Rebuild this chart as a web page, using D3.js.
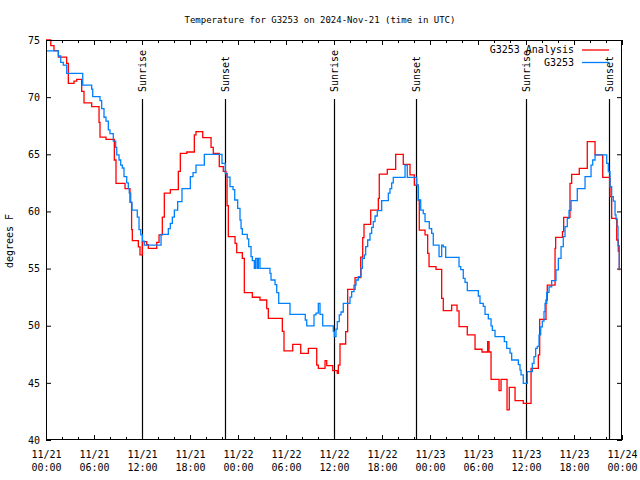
<!DOCTYPE html>
<html><head><meta charset="utf-8">
<script src="https://cdn.jsdelivr.net/npm/d3@7"></script>
<style>body{margin:0;background:#fff}text{font-family:"DejaVu Sans Mono",monospace;fill:#000}</style>
</head><body><svg id="c" width="640" height="480"></svg>
<script>
const title = "Temperature for G3253 on 2024-Nov-21 (time in UTC)";
const yLabel = "degrees F";
const startUTC = Date.UTC(2024, 10, 21, 0, 0);
const seriesNames = ["G3253 Analysis", "G3253"];
const seriesColors = ["#ff0000", "#0080ff"];
const yTicks = [40, 45, 50, 55, 60, 65, 70, 75];

// G3253 Analysis (hours since 11/21 00:00 UTC, deg F)
const redHours = [0,0.6,1.0,1.55,2.58,2.79,3.5,3.84,4.46,4.75,5.71,6.63,6.75,7.5,8.54,8.75,9.88,10.5,10.7,10.79,11.54,11.75,12.04,12.59,12.79,13.84,14.13,14.54,14.79,15.54,16.54,16.79,17.6,18.54,18.75,19.59,20.63,20.91,21.66,22.16,22.5,22.63,22.79,23.63,23.84,24.54,24.79,25.79,26.75,27.59,27.79,29.54,29.75,30.84,31.84,32.79,33.84,34.04,34.88,35.09,35.84,36.41,36.54,36.75,37.46,37.71,38.63,39.34,39.59,39.75,40.59,41.54,41.66,42.66,43.71,44.66,45.5,46.04,46.54,46.66,47.38,47.71,47.88,48.75,49.46,49.66,50.71,51.38,51.63,52.66,53.63,54.5,55.21,55.38,55.63,56.63,56.88,57.63,57.91,58.63,59.66,60.63,61.54,61.71,62.5,62.66,63.63,63.71,64.56,64.71,65.5,65.71,66.66,67.66,68.63,69.59,70.5,70.71,71.34,71.54,71.66,71.75];
const redTemps = [75.0,74.5,74.07,73.5,72.96,71.2,71.4,71.56,70.5,69.5,69.17,67.8,66.5,66.3,64.5,62.46,62.0,60.8,58.4,57.44,56.9,56.19,57.35,57.1,56.77,57.3,57.94,59.5,61.6,61.9,63.5,65.08,65.2,66.7,66.98,66.45,65.6,65.08,63.92,63.5,63.19,60.5,57.8,57.2,56.4,55.9,52.89,52.49,52.25,51.5,50.64,49.5,47.79,48.37,47.58,48.02,46.56,46.27,46.94,46.5,46.07,45.83,46.56,48.4,49.48,53.18,54.2,56.0,57.7,58.87,60.12,61.14,63.27,63.68,64.99,64.12,63.2,62.31,61.0,58.37,57.94,56.33,55.17,54.93,52.4,51.32,51.81,51.3,49.92,49.19,47.94,47.7,48.6,47.7,45.31,44.32,45.31,42.63,44.61,43.44,43.21,46.27,47.44,50.56,52.25,53.56,56.77,57.73,58.23,59.48,62.46,63.25,63.77,66.1,64.94,62.98,61.29,59.4,57.5,56.5,54.9,54.9];

// G3253 observed
const blueHours = [0,1.54,1.84,2.16,2.59,4.59,5.71,5.84,6.75,6.96,7.25,7.5,7.79,8.0,8.41,8.71,8.84,9.13,9.34,9.54,9.75,10.09,10.29,10.41,10.59,10.75,11.41,11.63,11.84,12.04,12.29,14.38,15.29,15.54,15.79,16.04,16.46,17.0,18.04,18.38,18.75,19.79,22.0,22.41,22.66,23.0,23.38,23.59,23.96,24.25,24.38,24.54,25.16,25.34,25.63,25.79,26.04,26.2,26.4,26.55,26.75,28.0,28.13,28.63,28.84,29.09,30.5,32.41,32.59,33.5,33.75,34.04,34.25,34.59,35.91,36.04,36.25,36.41,36.66,36.88,37.16,38.0,38.21,38.5,38.75,39.04,39.38,39.54,39.79,39.96,40.21,40.5,40.71,40.91,41.13,41.41,41.96,42.79,43.0,43.21,43.41,44.88,45.16,46.34,46.54,46.84,47.16,47.38,47.91,48.21,48.41,49.13,49.46,49.66,49.96,51.63,51.84,52.16,52.38,52.66,54.04,54.25,54.66,54.88,55.29,55.63,55.79,56.13,57.29,57.59,58.0,58.21,59.04,59.25,59.38,59.66,60.16,60.79,61.0,61.21,61.41,61.63,61.84,62.04,62.25,62.38,62.59,62.88,63.21,63.75,64.04,64.38,64.66,64.88,65.16,65.38,65.63,66.41,67.38,68.13,68.34,68.63,70.09,70.29,70.5,70.71,70.91,71.13,71.25,71.41,71.5,71.66,71.75];
const blueTemps = [74.04,73.6,73.05,72.8,72.08,71.06,70.7,70.04,69.7,69.0,68.24,67.9,67.13,66.8,66.16,65.6,64.94,64.5,64.06,63.8,63.04,62.5,62.0,61.6,60.8,60.12,59.5,58.4,57.94,57.4,57.06,58.0,58.5,58.96,59.5,60.12,60.85,62.0,63.04,63.4,64.06,65.0,64.21,63.33,63.0,62.17,61.9,61.0,60.27,59.25,58.5,58.0,57.6,56.92,56.04,55.7,55.02,55.9,55.02,55.9,55.02,54.58,54.0,53.6,52.89,51.96,51.0,50.5,49.98,50.94,51.1,51.96,51.0,49.98,49.5,49.04,49.7,50.35,50.94,51.2,51.96,52.5,52.98,53.56,54.0,54.3,55.02,55.9,56.2,56.92,57.5,58.08,58.6,59.1,59.6,60.07,60.94,61.6,62.0,62.5,62.98,64.06,62.98,62.31,61.0,60.12,59.8,59.1,58.5,58.08,57.06,56.04,57.06,56.9,55.98,55.17,54.9,54.15,53.8,53.07,52.6,51.96,51.7,51.0,50.6,49.98,49.6,49.04,48.6,48.02,47.6,47.0,46.6,46.12,45.7,44.96,45.98,46.7,47.29,48.02,48.2,49.19,49.9,50.4,51.23,51.96,52.92,53.4,53.94,54.88,55.9,56.92,57.79,58.67,59.4,60.1,60.94,62.0,63.04,64.06,64.5,64.94,64.2,63.48,62.17,61.29,60.9,59.69,59.3,58.7,57.0,55.02,55.02];

const sunLabels = ["Sunrise","Sunset","Sunrise","Sunset","Sunrise","Sunset"];
const sunHours = [12.0, 22.42, 35.96, 46.29, 59.96, 70.33];

const toDate = h => new Date(startUTC + h * 3600000);
const svg = d3.select("#c");
const L = 46, R = 622, T = 40, B = 440;
const x = d3.scaleUtc().domain([toDate(0), toDate(72)]).range([L, R]);
const y = d3.scaleLinear().domain([40, 75]).range([B, T]);

// title
svg.append("text").attr("x", 320).attr("y", 23).attr("text-anchor", "middle")
  .style("font-size", "9px").text(title);
// y label
svg.append("text").attr("transform", "translate(13,241) rotate(-90)")
  .attr("text-anchor", "middle").style("font-size", "10px").text(yLabel);

const fmtD = d3.utcFormat("%m/%d"), fmtT = d3.utcFormat("%H:%M");
function styleAxis(g){ g.select(".domain").remove(); g.selectAll("line").attr("stroke","#000"); }

// minor x ticks
svg.append("g").attr("transform", `translate(0,${B})`)
  .call(d3.axisBottom(x).ticks(d3.utcHour.every(2)).tickSize(-3).tickFormat("")).call(styleAxis);
svg.append("g").attr("transform", `translate(0,${T})`)
  .call(d3.axisTop(x).ticks(d3.utcHour.every(2)).tickSize(-3).tickFormat("")).call(styleAxis);
// major x ticks
const xb = svg.append("g").attr("transform", `translate(0,${B})`)
  .call(d3.axisBottom(x).ticks(d3.utcHour.every(6)).tickSize(-5).tickFormat("")).call(styleAxis);
xb.selectAll(".tick").each(function(d){
  const t = d3.select(this).append("text").attr("text-anchor","middle").style("font-size","10px");
  t.append("tspan").attr("x",0).attr("y",18).text(fmtD(d));
  t.append("tspan").attr("x",0).attr("y",31).text(fmtT(d));
});
svg.append("g").attr("transform", `translate(0,${T})`)
  .call(d3.axisTop(x).ticks(d3.utcHour.every(6)).tickSize(-5).tickFormat("")).call(styleAxis);

// y ticks
const yl = svg.append("g").attr("transform", `translate(${L},0)`)
  .call(d3.axisLeft(y).tickValues(yTicks).tickSize(-5).tickPadding(6).tickFormat(d3.format("d"))).call(styleAxis);
yl.selectAll("text").style("font-size","10px").attr("fill","#000");
svg.append("g").attr("transform", `translate(${R},0)`)
  .call(d3.axisRight(y).tickValues(yTicks).tickSize(-5).tickFormat("")).call(styleAxis);

// sunrise / sunset
sunHours.forEach((h, i) => {
  const sx = Math.round(x(toDate(h))) + 0.5;
  svg.append("line").attr("x1", sx).attr("x2", sx).attr("y1", 99).attr("y2", B)
    .attr("stroke", "#000").attr("stroke-width", 1.2);
  svg.append("text").attr("transform", `translate(${sx},92) rotate(-90)`)
    .attr("dominant-baseline", "middle").style("font-size", "10px").text(sunLabels[i]);
});

// series
const line = d3.line().curve(d3.curveStepAfter).x(d => x(toDate(d[0]))).y(d => y(d[1]));
const series = [d3.zip(redHours, redTemps), d3.zip(blueHours, blueTemps)];
series.forEach((s, i) => {
  svg.append("path").datum(s).attr("d", line).attr("fill", "none")
    .attr("stroke", seriesColors[i]).attr("stroke-width", 1.3);
});

// border
svg.append("rect").attr("x", L + 0.5).attr("y", T + 0.5).attr("width", R - L - 1).attr("height", B - T - 1)
  .attr("fill", "none").attr("stroke", "#000").attr("stroke-width", 1);

// legend
seriesNames.forEach((n, i) => {
  const ly = 50 + i * 12.5;
  svg.append("text").attr("x", 574).attr("y", ly).attr("text-anchor", "end")
    .attr("dominant-baseline", "middle").style("font-size", "10px").text(n);
  svg.append("line").attr("x1", 582).attr("x2", 609).attr("y1", ly).attr("y2", ly)
    .attr("stroke", seriesColors[i]).attr("stroke-width", 1.3);
});
</script></body></html>
